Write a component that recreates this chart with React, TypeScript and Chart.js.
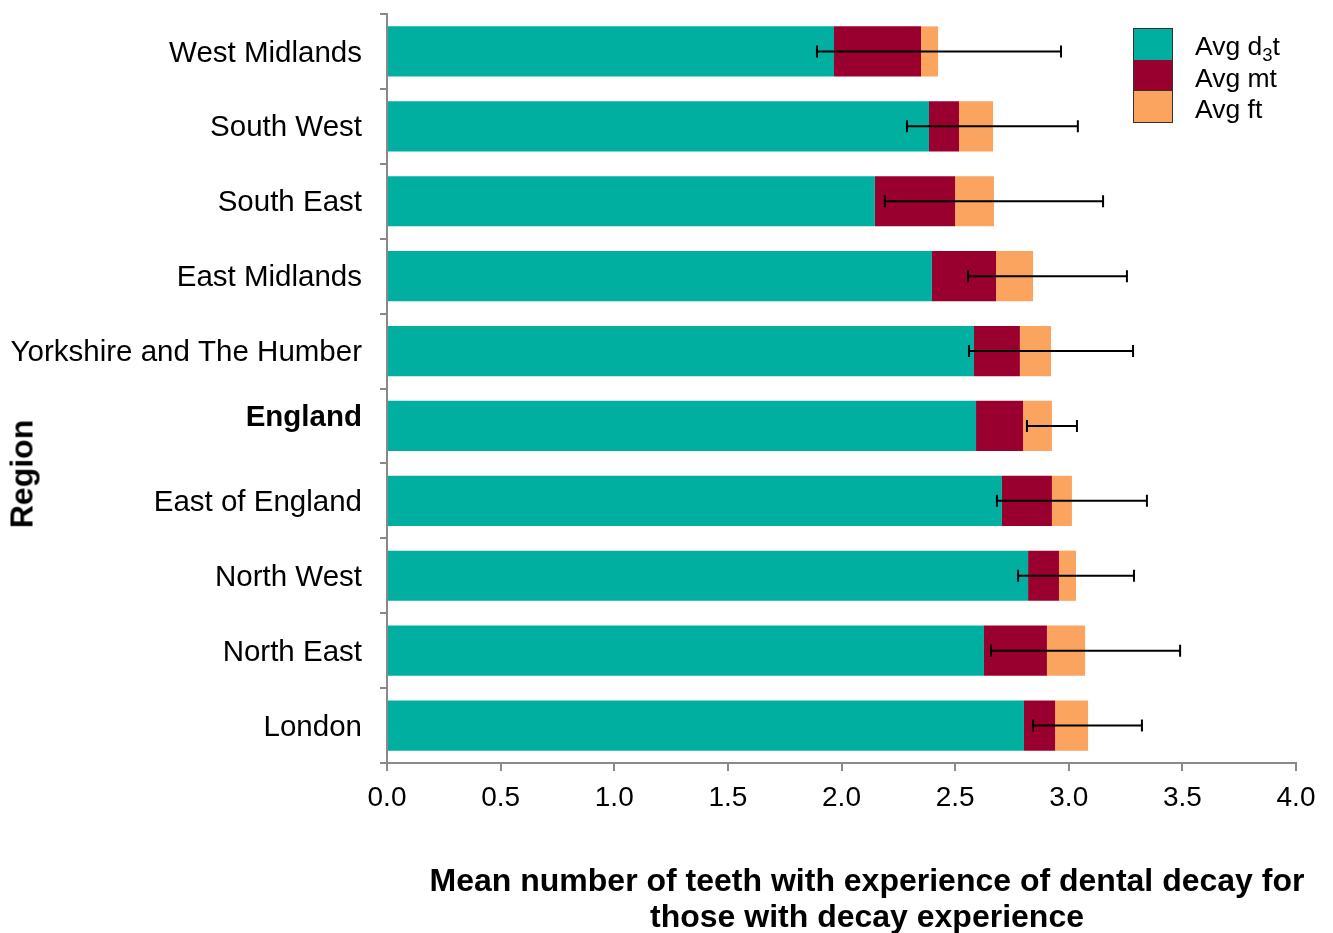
import React, { useEffect, useRef } from "react";
import { Chart, registerables } from "chart.js";

Chart.register(...registerables);

const categories = [
  "West Midlands",
  "South West",
  "South East",
  "East Midlands",
  "Yorkshire and The Humber",
  "England",
  "East of England",
  "North West",
  "North East",
  "London",
];
// segment values (stacked)
const avgD3t = [1.967, 2.385, 2.147, 2.398, 2.583, 2.592, 2.706, 2.821, 2.627, 2.803];
const avgMt = [0.383, 0.132, 0.353, 0.282, 0.202, 0.207, 0.22, 0.136, 0.277, 0.137];
const avgFt = [0.075, 0.15, 0.171, 0.163, 0.137, 0.127, 0.088, 0.075, 0.168, 0.145];
// error bar limits
const errLow = [1.892, 2.288, 2.191, 2.557, 2.561, 2.816, 2.684, 2.777, 2.658, 2.843];
const errHigh = [2.966, 3.04, 3.151, 3.256, 3.283, 3.036, 3.344, 3.287, 3.49, 3.322];
const xTicks = [0, 0.5, 1, 1.5, 2, 2.5, 3, 3.5, 4];

const COLORS = ["#00AFA0", "#99002F", "#FAA460"];
const AXIS = "#898989";
const FONT = "'Liberation Sans', Arial, sans-serif";

const errorBarPlugin = {
  id: "errorBars",
  afterDatasetsDraw(chart: any) {
    const ctx = chart.ctx;
    const xs = chart.scales.x;
    const ys = chart.scales.y;
    ctx.save();
    ctx.strokeStyle = "#000";
    ctx.lineWidth = 2;
    for (let i = 0; i < categories.length; i++) {
      const y = ys.getPixelForValue(i);
      const x1 = xs.getPixelForValue(errLow[i]);
      const x2 = xs.getPixelForValue(errHigh[i]);
      ctx.beginPath();
      ctx.moveTo(x1, y);
      ctx.lineTo(x2, y);
      ctx.moveTo(x1, y - 6);
      ctx.lineTo(x1, y + 6);
      ctx.moveTo(x2, y - 6);
      ctx.lineTo(x2, y + 6);
      ctx.stroke();
    }
    ctx.restore();
  },
};

export default function App() {
  const ref = useRef<HTMLCanvasElement | null>(null);
  useEffect(() => {
    if (!ref.current) return;
    const labels = categories.map((c) => (c === "England" ? [c, ""] : c));
    const chart = new Chart(ref.current, {
      type: "bar",
      data: {
        labels,
        datasets: [
          { label: "Avg d3t", data: avgD3t, backgroundColor: COLORS[0] },
          { label: "Avg mt", data: avgMt, backgroundColor: COLORS[1] },
          { label: "Avg ft", data: avgFt, backgroundColor: COLORS[2] },
        ],
      },
      options: {
        indexAxis: "y",
        animation: false,
        responsive: false,
        maintainAspectRatio: false,
        layout: { padding: { left: 0, top: 14, right: 37, bottom: 0 } },
        datasets: { bar: { barPercentage: 0.67, categoryPercentage: 1 } },
        plugins: {
          legend: { display: false },
          tooltip: { enabled: false },
          title: { display: false },
        },
        scales: {
          x: {
            stacked: true,
            min: 0,
            max: 4,
            afterBuildTicks: (s: any) => {
              s.ticks = xTicks.map((v) => ({ value: v }));
            },
            afterFit: (s: any) => {
              s.height = 170;
              s.paddingLeft = 0;
              s.paddingRight = 0;
            },
            ticks: {
              color: "#000",
              font: { family: FONT, size: 28 },
              padding: 10,
              callback: (v: any) => Number(v).toFixed(1),
            },
            grid: { drawOnChartArea: false, drawTicks: true, tickLength: 8, color: AXIS, lineWidth: 2 },
            border: { color: AXIS, width: 2 },
          },
          y: {
            stacked: true,
            afterFit: (s: any) => {
              s.width = 387;
              s.paddingTop = 0;
              s.paddingBottom = 0;
            },
            ticks: {
              color: "#000",
              padding: 18,
              labelOffset: 2,
              font: (c: any) =>
                c.index === 5
                  ? { family: FONT, size: 29.5, weight: "bold", lineHeight: 0.66 }
                  : { family: FONT, size: 29.5, weight: "normal", lineHeight: 1.2 },
            },
            grid: { drawOnChartArea: false, drawTicks: true, tickLength: 7, color: AXIS, lineWidth: 2, offset: true },
            border: { color: AXIS, width: 2 },
          },
        },
      } as any,
      plugins: [errorBarPlugin],
    });
    return () => chart.destroy();
  }, []);

  const legendItems = [
    { color: COLORS[0], text: <>Avg d<sub style={{ fontSize: "0.7em", verticalAlign: "-0.3em" }}>3</sub>t</> },
    { color: COLORS[1], text: <>Avg mt</> },
    { color: COLORS[2], text: <>Avg ft</> },
  ];

  return (
    <div style={{ position: "absolute", left: 0, top: 0, width: 1333, height: 933, background: "#fff", fontFamily: FONT }}>
      <canvas ref={ref} width={1333} height={933} style={{ position: "absolute", left: 0, top: 0 }} />
      <div style={{ position: "absolute", left: 1133, top: 28 }}>
        {legendItems.map((it, i) => (
          <div key={i} style={{ position: "relative", height: 31.5 }}>
            <div
              style={{
                position: "absolute",
                left: 0,
                top: 0,
                width: 38,
                height: 30.5,
                background: it.color,
                border: "1px solid #333",
                borderTop: i === 0 ? "1px solid #333" : "none",
                boxSizing: "content-box",
              }}
            />
            <div style={{ position: "absolute", left: 62, top: 3, fontSize: 26.5, lineHeight: "30px", whiteSpace: "nowrap", color: "#000" }}>
              {it.text}
            </div>
          </div>
        ))}
      </div>
      <div
        style={{
          position: "absolute",
          left: 22,
          top: 474,
          transform: "translate(-50%, -50%) rotate(-90deg)",
          fontWeight: "bold",
          fontSize: 32,
          whiteSpace: "nowrap",
          color: "#000",
        }}
      >
        Region
      </div>
      <div
        style={{
          position: "absolute",
          left: 867,
          top: 898,
          transform: "translate(-50%, -50%)",
          fontWeight: "bold",
          fontSize: 32,
          lineHeight: "36px",
          textAlign: "center",
          whiteSpace: "nowrap",
          color: "#000",
        }}
      >
        Mean number of teeth with experience of dental decay for
        <br />
        those with decay experience
      </div>
    </div>
  );
}
